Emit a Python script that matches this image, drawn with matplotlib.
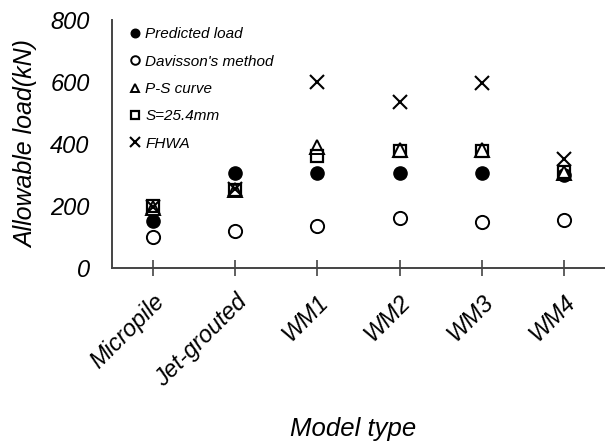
import matplotlib
matplotlib.use("Agg")
import matplotlib.pyplot as plt

plt.rcParams['font.family'] = ['Liberation Sans', 'DejaVu Sans']

models = ["Micropile", "Jet-grouted", "WM1", "WM2", "WM3", "WM4"]
predicted = [150, 305, 305, 305, 305, 300]
davisson = [100, 120, 137, 160, 147, 155]
ps_curve = [195, 252, 390, 380, 382, 305]
s_254 = [200, 250, 362, 377, 378, 310]
fhwa = [198, 255, 600, 535, 598, 352]
yticks = [0, 200, 400, 600, 800]

fig = plt.figure(figsize=(6.05, 4.43), dpi=100)
ax = fig.add_axes([0.185, 0.395, 0.815, 0.56])

x = list(range(1, len(models) + 1))
ax.plot(x, predicted, 'o', ms=9.5, mfc='black', mec='black', label='Predicted load', zorder=3)
ax.plot(x, davisson, 'o', ms=9.5, mfc='white', mec='black', mew=1.4, label="Davisson's method", zorder=3)
ax.plot(x, ps_curve, '^', ms=9.5, mfc='white', mec='black', mew=1.4, label='P-S curve', zorder=4)
ax.plot(x, s_254, 's', ms=9, mfc='none', mec='black', mew=1.6, label='S=25.4mm', zorder=4)
ax.plot(x, fhwa, 'x', ms=10, mec='black', mew=1.5, label='FHWA', zorder=5)

ax.set_xlim(0.5, 6.5)
ax.set_ylim(0, 800)
ax.set_yticks(yticks)
ax.set_yticklabels([str(v) for v in yticks], fontsize=17, style='italic')
ax.set_xticks(x)
ax.set_xticklabels(models, fontsize=17, style='italic', rotation=45,
                   ha='right', rotation_mode='anchor')
ax.tick_params(axis='y', length=0, pad=16)
ax.tick_params(axis='x', direction='inout', length=12, width=1.2, color='#444444', pad=10)

for side in ('top', 'right'):
    ax.spines[side].set_visible(False)
for side in ('left', 'bottom'):
    ax.spines[side].set_color('#444444')
    ax.spines[side].set_linewidth(1.4)

ax.set_ylabel('Allowable load(kN)', fontsize=18, style='italic', labelpad=9)
ax.set_xlabel('Model type', fontsize=18.5, style='italic')
ax.xaxis.set_label_coords(0.49, -0.60)

leg = ax.legend(loc='upper left', bbox_to_anchor=(0.01, 1.025), frameon=False,
                prop={'size': 11, 'style': 'italic'}, markerscale=0.65,
                handlelength=0.6, handletextpad=0.35, labelspacing=0.87,
                numpoints=1)

fig.savefig('out.png', dpi=100)
